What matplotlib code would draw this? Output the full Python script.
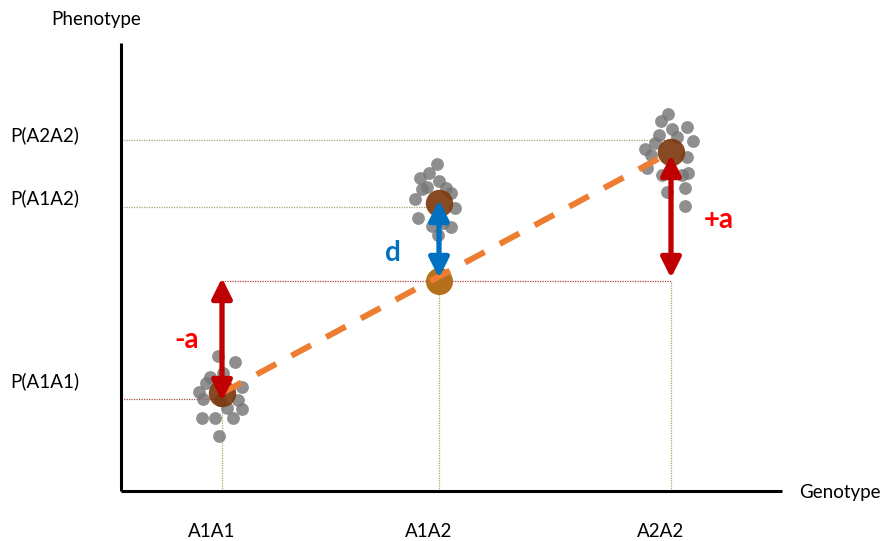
import matplotlib
matplotlib.use("Agg")
import matplotlib.pyplot as plt
import numpy as np

# ---------------- data ----------------
genotypes = ["A1A1", "A1A2", "A2A2"]
geno_x = [1.01, 3.18, 5.50]            # positions of genotypes on x axis
geno_means = [0.98, 2.88, 3.39]         # phenotype means (brown circles)
midpoint = 2.10                          # midpoint between homozygotes
pheno_levels = [0.92, 2.84, 3.51]        # P(A1A1), P(A1A2), P(A2A2) guide lines
pheno_labels = ["P(A1A1)", "P(A1A2)", "P(A2A2)"]

# individual observations: x jitter around genotype, phenotype value
a1a1_dx = [-0.04, 0.13, 0.01, -0.12, -0.16, 0.20, -0.23, -0.19, 0.16, -0.02, 0.05, 0.20, -0.20, -0.07, 0.11, -0.03]
a1a1_y = [1.35, 1.29, 1.18, 1.14, 1.08, 1.04, 0.99, 0.92, 0.91, 0.91, 0.83, 0.82, 0.73, 0.73, 0.73, 0.55]
a1a2_dx = [-0.02, -0.10, -0.19, 0.00, -0.12, -0.17, 0.07, 0.12, -0.24, 0.16, -0.21, -0.07, 0.04, 0.12, -0.01]
a1a2_y = [3.27, 3.18, 3.13, 3.10, 3.04, 3.02, 3.03, 2.98, 2.92, 2.83, 2.73, 2.65, 2.68, 2.64, 2.56]
a2a2_dx = [-0.03, -0.10, 0.01, 0.16, -0.12, 0.06, 0.22, -0.26, -0.16, -0.20, 0.16, -0.24, -0.09, 0.11, 0.17, 0.14, -0.04, 0.14]
a2a2_y = [3.77, 3.70, 3.62, 3.64, 3.56, 3.54, 3.50, 3.42, 3.48, 3.36, 3.34, 3.23, 3.16, 3.16, 3.18, 3.03, 2.99, 2.85]

# arrows (phenotype ranges)
arrow_minus_a = (2.13, 0.90)
arrow_d = (2.91, 2.13)
arrow_plus_a = (3.36, 2.13)

# ---------------- figure ----------------
W, H = 884, 541
fig = plt.figure(figsize=(W / 100, H / 100), dpi=100)
ax = fig.add_axes([121 / W, 50 / H, 661 / W, 448 / H])
ax.set_xlim(0, 6.61)
ax.set_ylim(0, 4.48)
for s in ["top", "right"]:
    ax.spines[s].set_visible(False)
for s in ["left", "bottom"]:
    ax.spines[s].set_linewidth(2.2)
    ax.spines[s].set_color("black")
    ax.spines[s].set_capstyle("butt")
ax.set_xticks([])
ax.set_yticks([])

FONT = "Lato"
FS = 13.5
olive = "#A8A46A"
dred = "#B8403C"

# horizontal guide lines
ax.plot([0, geno_x[2]], [pheno_levels[2]] * 2, color=olive, lw=0.9, ls=(0, (1, 1)), zorder=1)
ax.plot([0, geno_x[1]], [pheno_levels[1]] * 2, color=olive, lw=0.9, ls=(0, (1, 1)), zorder=1)
ax.plot([0, geno_x[0]], [pheno_levels[0]] * 2, color="#A0523C", lw=0.9, ls=(0, (1, 1)), zorder=1)
ax.plot([geno_x[0], geno_x[2]], [midpoint] * 2, color=dred, lw=0.9, ls=(0, (1, 1)), zorder=1)

# vertical guide lines
ax.plot([geno_x[0]] * 2, [0, pheno_levels[0]], color=olive, lw=0.9, ls=(0, (1, 1)), zorder=1)
ax.plot([geno_x[1]] * 2, [0, midpoint], color=olive, lw=0.9, ls=(0, (1, 1)), zorder=1)
ax.plot([geno_x[2]] * 2, [0, midpoint], color=olive, lw=0.9, ls=(0, (1, 1)), zorder=1)

# grey observation dots
for gx, dxs, ys in [(geno_x[0], a1a1_dx, a1a1_y), (geno_x[1], a1a2_dx, a1a2_y), (geno_x[2], a2a2_dx, a2a2_y)]:
    ax.scatter(np.array(dxs) + gx, ys, s=85, color="#767676", alpha=0.82, linewidths=0, zorder=2)

# brown mean circles
ax.scatter(geno_x, geno_means, s=390, color="#7A360A", alpha=0.9, linewidths=0, zorder=3)

# midpoint circle
ax.scatter([geno_x[1]], [midpoint], s=380, color="#B5701E", linewidths=0, zorder=3)

# orange dashed additive line
ln, = ax.plot([geno_x[0], geno_x[2]], [geno_means[0], geno_means[2]], color="#ED7D31", lw=4.3, zorder=4,
              solid_capstyle="butt", dash_capstyle="butt")
ln.set_dashes([3.7, 2.9])

# arrows
def darrow(x, ys, color):
    ax.annotate("", xy=(x, ys[1]), xytext=(x, ys[0]),
                arrowprops=dict(arrowstyle="<|-|>,head_length=0.6,head_width=0.3", color=color,
                                lw=3.8, shrinkA=0, shrinkB=0, mutation_scale=20),
                zorder=5)

darrow(geno_x[0], arrow_minus_a, "#C00000")
darrow(geno_x[1], arrow_d, "#0070C0")
darrow(geno_x[2], arrow_plus_a, "#C00000")

# annotation labels
ax.text(0.66, 1.43, "-a", color="#FF0000", fontsize=20, fontweight="bold", family=FONT,
        ha="center", va="baseline")
ax.text(5.98, 2.63, "+a", color="#FF0000", fontsize=20, fontweight="bold", family=FONT,
        ha="center", va="baseline")
ax.text(2.72, 2.30, "d", color="#0070C0", fontsize=20, fontweight="bold", family=FONT,
        ha="center", va="baseline")

# y "tick" labels
label_base = [1.04, 2.87, 3.50]
for lab, yb in zip(pheno_labels, label_base):
    ax.text(-0.76, yb, lab, fontsize=FS, family=FONT, ha="center", va="baseline", clip_on=False)

# x labels
for gx, g in zip(geno_x, genotypes):
    ax.text(gx - 0.105, -0.46, g, fontsize=FS, family=FONT, ha="center", va="baseline", clip_on=False)

ax.text(-0.25, 4.66, "Phenotype", fontsize=FS, family=FONT, ha="center", va="baseline", clip_on=False)
ax.text(6.78, -0.07, "Genotype", fontsize=FS, family=FONT, ha="left", va="baseline", clip_on=False)

fig.savefig("out.png", dpi=100)
